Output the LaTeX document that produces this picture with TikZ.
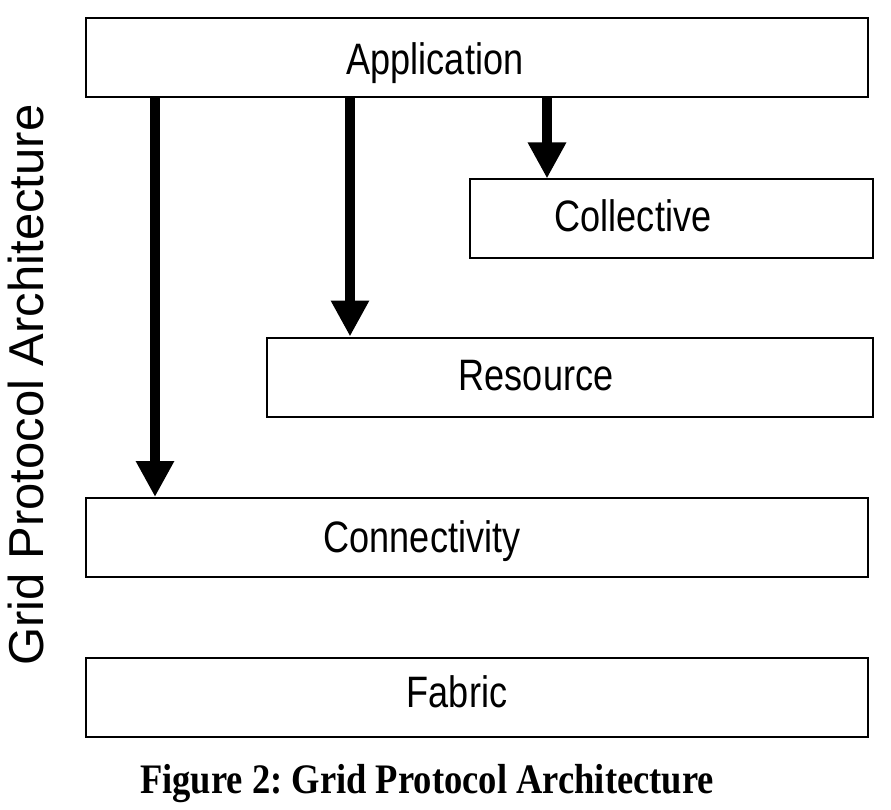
\documentclass[tikz,border=0pt]{standalone}
\usepackage{fontspec}
\setmainfont{Liberation Serif}
\setsansfont{Liberation Sans}
\usetikzlibrary{arrows.meta, positioning}
\frenchspacing

\begin{document}
\begin{tikzpicture}[x=1pt, y=-1pt,
  layer/.style={draw, line width=2pt, rectangle, inner sep=0pt, minimum height=79pt},
  lbl/.style={font=\sffamily\fontsize{44}{44}\selectfont, xscale=0.82, anchor=base, inner sep=0pt},
  down/.style={line width=10pt, -{Triangle[width=36pt, length=36pt]}}]
\useasboundingbox (0,0) rectangle (891,810);
% the five layers
\node[layer, minimum width=782pt] (app) at (477,58) {};
\node[layer, minimum width=403pt] (coll) at (671.5,219) {};
\node[layer, minimum width=606pt] (res) at (570,377) {};
\node[layer, minimum width=782pt] (conn) at (477,537.5) {};
\node[layer, minimum width=782pt] (fab) at (477,697) {};
\node[lbl] (applbl) at (435,75) {Application};
\node[lbl] (colllbl) at (633,232) {Collective};
\node[lbl] (reslbl) at (536,390) {Resource};
\node[lbl] (connlbl) at (422,552) {Connectivity};
\node[lbl] (fablbl) at (457,707) {Fabric};
% arrows from Application down
\coordinate (x1) at (155,0);
\coordinate (x2) at (350,0);
\coordinate (x3) at (547,0);
\draw[down] (app.south -| x1) -- (conn.north -| x1);
\draw[down] (app.south -| x2) -- (res.north -| x2);
\draw[down] (app.south -| x3) -- (coll.north -| x3);
% side title and caption
\node[rotate=90, anchor=base, inner sep=0pt, font=\sffamily\fontsize{49}{49}\selectfont] (side) at (43,385) {Grid Protocol Architecture};
\node[anchor=base, inner sep=0pt, xscale=0.87, font=\bfseries\fontsize{42}{42}\selectfont] (caption) at (427,793) {Figure 2: Grid Protocol Architecture};
\end{tikzpicture}
\end{document}
